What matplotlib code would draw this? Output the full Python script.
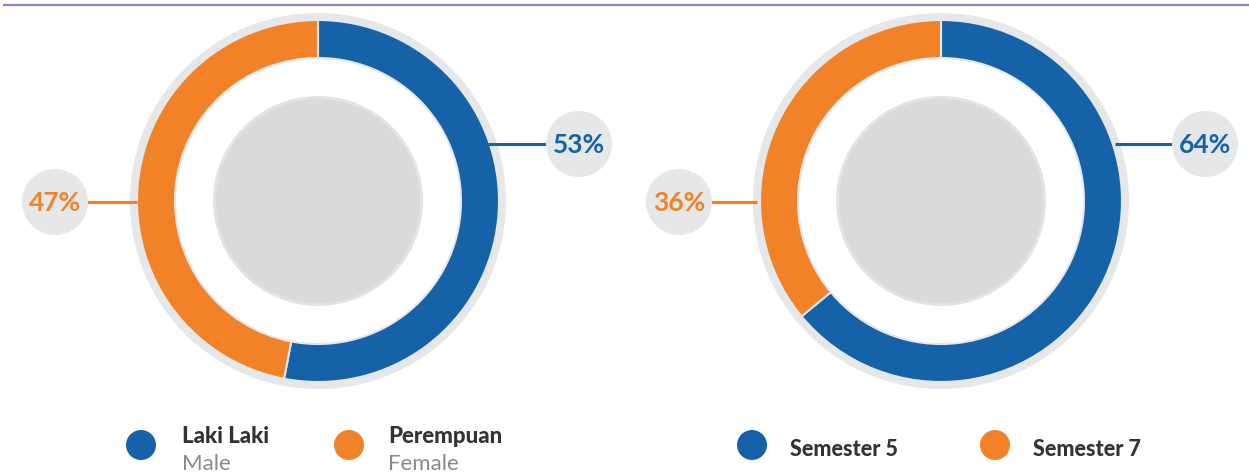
"""Two donut charts: student gender split and semester split."""
import matplotlib.pyplot as plt
from matplotlib.patches import Circle

BLUE = "#1562a8"
ORANGE = "#f28227"
RING_GREY = "#e6e7e8"
DISC_GREY = "#d9dadb"
DARK = "#333333"

# data
gender_labels = ["Laki Laki", "Perempuan"]
gender_sub = ["Male", "Female"]
gender_values = [53, 47]
semester_labels = ["Semester 5", "Semester 7"]
semester_values = [64, 36]

W, H = 1249, 473
plt.rcParams["font.family"] = ["Lato", "DejaVu Sans"]

fig = plt.figure(figsize=(W / 100, H / 100), dpi=100)
ax = fig.add_axes([0, 0, 1, 1])
ax.set_xlim(0, W)
ax.set_ylim(0, H)
ax.set_aspect("equal")
ax.axis("off")


def y(px):
    """Convert a top-down pixel row to the axis' bottom-up coordinate."""
    return H - px


# thin rule along the top
ax.plot([3, W], [y(5), y(5)], color="#8585c2", linewidth=1.6, solid_capstyle="butt")


def donut(cx, cy, values, callouts):
    """Draw one ring with its grey halo, centre disc and bubble callouts."""
    ax.add_patch(Circle((cx, y(cy)), 188, facecolor=RING_GREY, edgecolor="none", zorder=1))
    ax.add_patch(Circle((cx, y(cy)), 181, facecolor="white", edgecolor="none", zorder=1.5))
    ax.pie(values, colors=[BLUE, ORANGE], center=(cx, y(cy)), radius=181,
           startangle=90, counterclock=False,
           wedgeprops=dict(width=38, edgecolor=RING_GREY, linewidth=1.5, zorder=2))
    ax.add_patch(Circle((cx, y(cy)), 105, facecolor="#e2e3e4", edgecolor="none", zorder=2))
    ax.add_patch(Circle((cx, y(cy)), 102, facecolor=DISC_GREY, edgecolor="none", zorder=2))
    for value, color, (bx, by, lx) in zip(values, [BLUE, ORANGE], callouts):
        ax.plot([lx, bx], [y(by), y(by)], color=color, linewidth=2.2, zorder=3,
                solid_capstyle="butt")
        ax.add_patch(Circle((bx, y(by)), 33, facecolor=RING_GREY, edgecolor="none", zorder=4))
        ax.text(bx, y(by) - 1, f"{value}%", color=color, fontsize=19, fontweight="bold",
                ha="center", va="center", zorder=5)
    # restore equal aspect after pie()
    ax.set_xlim(0, W)
    ax.set_ylim(0, H)
    ax.set_aspect("equal")


donut(318, 201, gender_values, [(579, 144, 488), (55, 202, 137)])
donut(941, 201, semester_values, [(1205, 144, 1115), (679, 202, 757)])

# legends
for cx, label, sub, color in zip([141, 349], gender_labels, gender_sub, [BLUE, ORANGE]):
    ax.add_patch(Circle((cx, y(445)), 15, facecolor=color, edgecolor="none"))
    tx = cx + 41 if color == BLUE else cx + 39
    ax.text(tx, y(443), label, color=DARK, fontsize=16, fontweight="black",
            ha="left", va="baseline")
    ax.text(tx, y(470), sub, color="#8a8a8a", fontsize=16, ha="left", va="baseline")

for cx, label, color in zip([752, 995], semester_labels, [BLUE, ORANGE]):
    ax.add_patch(Circle((cx, y(445)), 15, facecolor=color, edgecolor="none"))
    ax.text(cx + 38, y(456), label, color=DARK, fontsize=15.5, fontweight="black",
            ha="left", va="baseline")

fig.savefig("out.png", dpi=100)
